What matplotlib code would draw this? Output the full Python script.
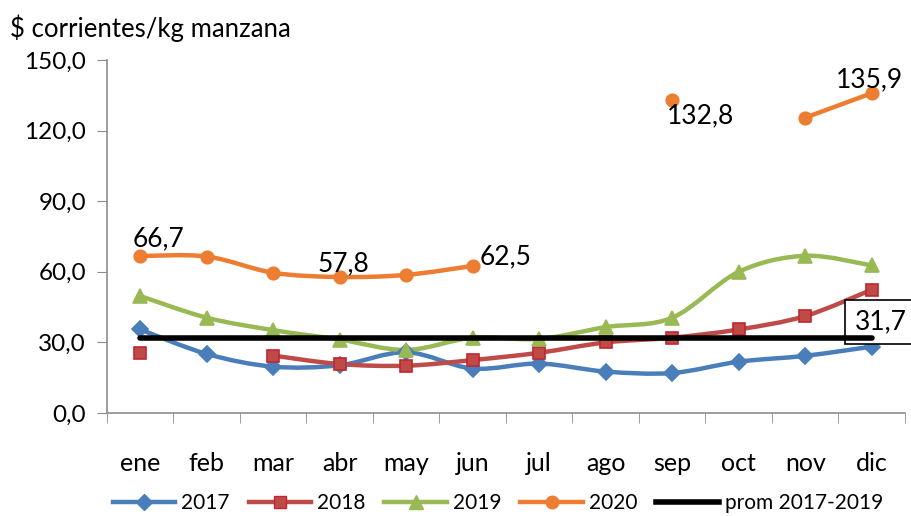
import numpy as np
import matplotlib
matplotlib.use("Agg")
from matplotlib import pyplot as plt
from matplotlib.path import Path
from matplotlib.patches import PathPatch
from matplotlib.lines import Line2D

plt.rcParams['font.family'] = ['Lato', 'DejaVu Sans']

meses = ["ene", "feb", "mar", "abr", "may", "jun", "jul", "ago", "sep", "oct", "nov", "dic"]
nan = np.nan
v2017 = [35.5, 25.1, 19.7, 20.3, 25.8, 18.9, 21.0, 17.6, 17.0, 21.8, 24.3, 28.2]
v2018 = [25.6, nan, 24.4, 20.8, 20.1, 22.5, 25.6, 30.0, 32.0, 35.5, 41.2, 52.4]
v2019 = [49.7, 40.5, 35.2, 31.2, 26.8, 32.0, 31.5, 36.5, 40.5, 60.0, 66.8, 62.7]
v2020 = [66.7, 66.5, 59.6, 57.8, 58.7, 62.5, nan, nan, 132.8, nan, 125.5, 135.9]
promedio = 31.7

series = [
    ("2017", v2017, "#4a7ebb", "D", "#4a7ebb", 8),
    ("2018", v2018, "#be4b48", "s", "#c0262d", 8),
    ("2019", v2019, "#98b954", "^", "#98b954", 10),
    ("2020", v2020, "#ed7d31", "o", "#ed7d31", 9),
]


def smooth_path(xs, ys):
    # curva tipo Excel (Catmull-Rom en Bezier)
    pts = np.column_stack([xs, ys])
    verts = [pts[0]]
    codes = [Path.MOVETO]
    n = len(pts)
    for i in range(n - 1):
        p0 = pts[i - 1] if i > 0 else pts[i]
        p1 = pts[i]
        p2 = pts[i + 1]
        p3 = pts[i + 2] if i + 2 < n else pts[i + 1]
        c1 = p1 + (p2 - p0) / 6.0
        c2 = p2 - (p3 - p1) / 6.0
        verts += [c1, c2, p2]
        codes += [Path.CURVE4] * 3
    return Path(verts, codes)


fig = plt.figure(figsize=(9.12, 5.16), dpi=100)
ax = fig.add_axes([107 / 912, 1 - 413 / 516, 798 / 912, 353 / 516])

x = np.arange(len(meses))
handles = []
for name, vals, color, marker, edge, ms in series:
    y = np.array(vals, dtype=float)
    ok = ~np.isnan(y)
    # tramos continuos
    runs = []
    cur = []
    for i in range(len(y)):
        if ok[i]:
            cur.append(i)
        else:
            if cur:
                runs.append(cur)
            cur = []
    if cur:
        runs.append(cur)
    for r in runs:
        if len(r) > 1:
            p = smooth_path(x[r], y[r])
            ax.add_patch(PathPatch(p, facecolor="none", edgecolor=color, lw=3.2,
                                   capstyle="round", joinstyle="round", zorder=2))
    ax.plot(x[ok], y[ok], linestyle="none", marker=marker, ms=ms, color=color,
            markeredgecolor=edge, markeredgewidth=1.2, zorder=3)
    handles.append(Line2D([], [], color=color, lw=3.2, marker=marker, ms=ms,
                          markeredgecolor=edge, label=name))

ax.plot([0, 11], [promedio, promedio], color="black", lw=4, zorder=4,
        solid_capstyle="round")
handles.append(Line2D([], [], color="black", lw=4, label="prom 2017-2019"))

# etiquetas de datos
lab = dict(fontsize=19, color="black")
ax.text(-0.12, v2020[0] + 2.0, "66,7", ha="left", va="bottom", **lab)
ax.text(3.06, v2020[3] + 0.3, "57,8", ha="center", va="bottom", **lab)
ax.text(5.1, v2020[5] - 1.5, "62,5", ha="left", va="bottom", **lab)
ax.text(7.92, v2020[8] - 1.0, "132,8", ha="left", va="top", **lab)
ax.text(10.96, v2020[11] + 0.5, "135,9", ha="center", va="bottom", **lab)
ax.text(11.13, 38.6, "31,7", ha="center", va="center", clip_on=False,
        bbox=dict(boxstyle="square,pad=0.35", fc="white", ec="black", lw=1.2), **lab)

ax.set_xlim(-0.5, 11.5)
ax.set_ylim(0, 150)
ax.set_yticks(np.arange(0, 151, 30))
ax.set_yticklabels([f"{v:.1f}".replace(".", ",") for v in np.arange(0, 151, 30)])
ax.set_xticks(x)
ax.set_xticklabels(meses)
ax.set_xticks(np.arange(-0.5, 12, 1), minor=True)
ax.tick_params(axis="x", which="major", length=0, pad=28, labelsize=18)
ax.tick_params(axis="x", which="minor", length=7, color="#8c8c8c")
ax.tick_params(axis="y", length=7, color="#8c8c8c", labelsize=17.5, pad=8)
for s in ["top", "right"]:
    ax.spines[s].set_visible(False)
for s in ["left", "bottom"]:
    ax.spines[s].set_color("#8c8c8c")
    ax.spines[s].set_linewidth(1.2)

fig.text(10 / 912, 1 - 28 / 516, "$ corrientes/kg manzana", fontsize=18.5,
         ha="left", va="center")

ax.legend(handles=handles, loc="center", bbox_to_anchor=(0.49, -0.255), ncol=5,
          frameon=False, fontsize=15, handlelength=3.0, columnspacing=0.9,
          handletextpad=0.3)

fig.savefig("out.png", dpi=100)
